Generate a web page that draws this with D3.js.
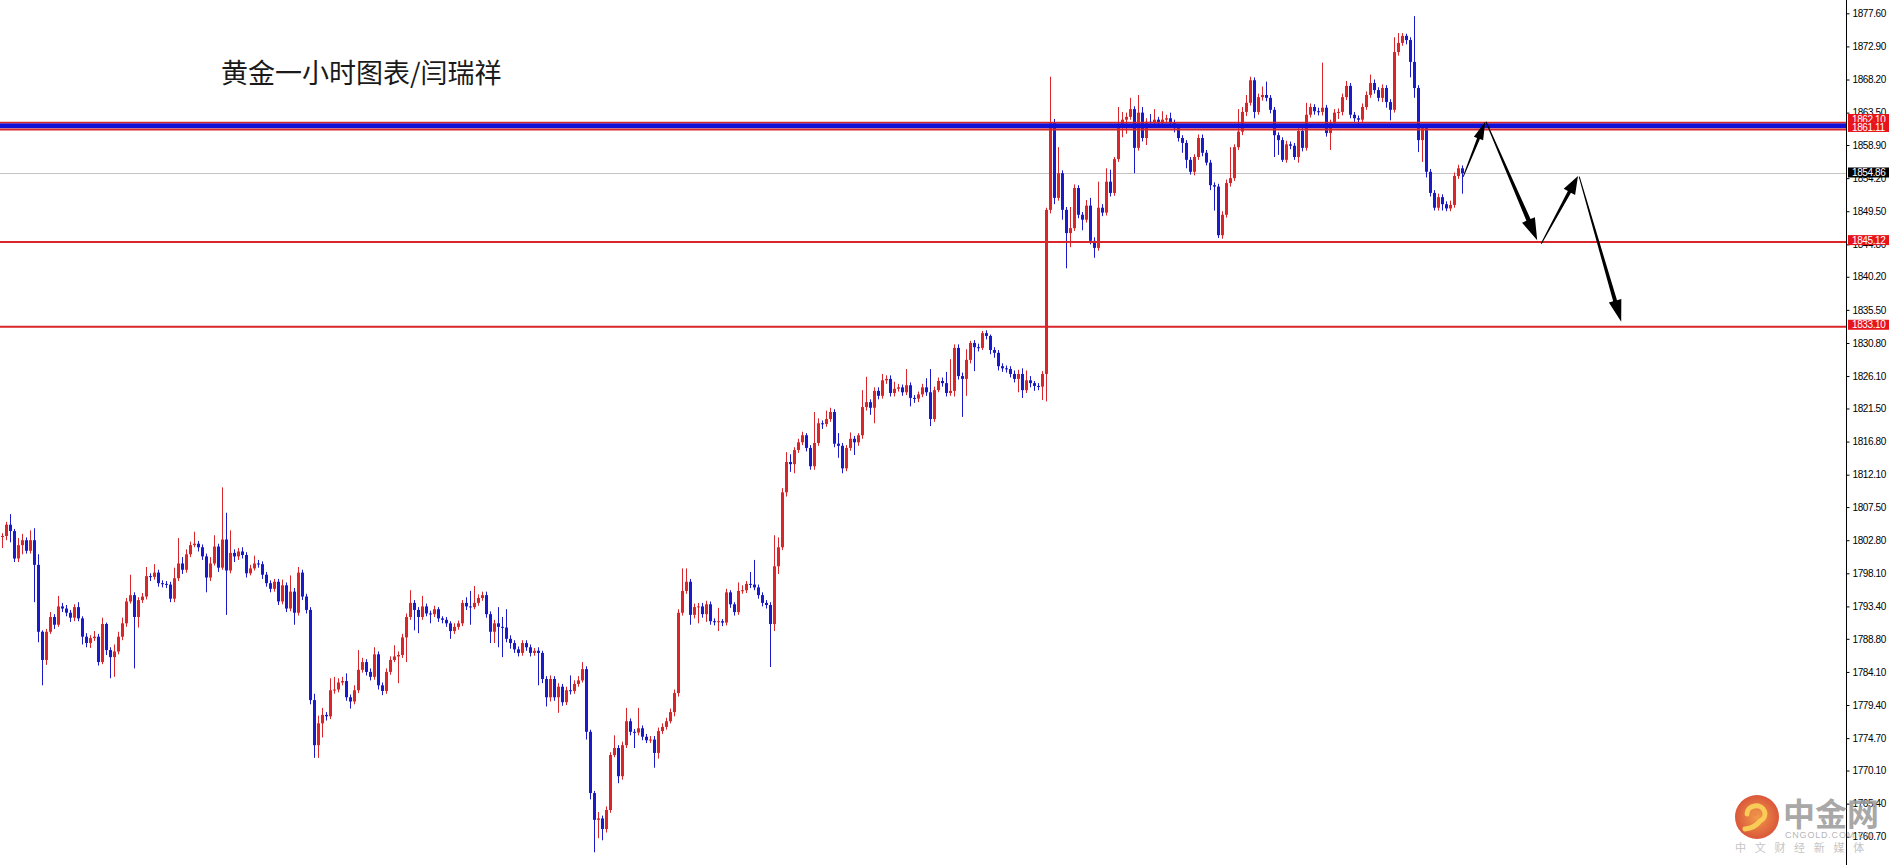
<!DOCTYPE html>
<html><head><meta charset="utf-8">
<script src="https://cdn.jsdelivr.net/npm/d3@7/dist/d3.min.js"></script>
<style>html,body{margin:0;padding:0;background:#fff;overflow:hidden}</style>
</head><body>
<svg id="chart" width="1890" height="865"></svg>
<script>
// ---- DATA (XAUUSD H1) ----
const opens=[
1804.2,1803.3,1803.4,1805.0,1804.1,1800.2,1802.1,1802.8,1801.3,1802.8,
1799.3,1789.8,1785.8,1789.8,1791.9,1790.8,1793.4,1793.1,1792.5,1791.8,
1793.3,1791.7,1789.1,1788.2,1788.9,1789.1,1785.5,1790.9,1787.2,1786.2,
1787.0,1789.1,1791.0,1794.1,1795.0,1791.9,1794.3,1794.8,1797.7,1797.6,
1798.2,1796.7,1796.6,1796.5,1794.5,1797.4,1799.5,1798.6,1800.8,1802.1,
1802.3,1801.8,1800.5,1797.5,1799.5,1801.9,1798.9,1802.9,1798.5,1801.0,
1800.5,1801.2,1800.7,1798.1,1798.8,1799.5,1799.4,1797.9,1796.7,1795.9,
1796.9,1794.1,1796.4,1793.1,1795.5,1792.5,1798.2,1794.8,1792.9,1780.1,
1773.7,1776.8,1778.0,1777.8,1781.5,1781.6,1782.6,1782.8,1780.5,1779.9,
1781.5,1784.4,1785.5,1784.1,1783.4,1786.6,1782.2,1781.4,1784.1,1785.8,
1786.3,1786.5,1789.0,1791.9,1793.9,1792.9,1791.9,1793.4,1792.4,1792.3,
1793.0,1791.7,1791.5,1791.0,1789.9,1790.5,1791.0,1793.9,1793.4,1793.3,
1793.9,1794.6,1795.0,1792.3,1789.8,1791.0,1790.5,1790.4,1788.8,1788.2,
1787.3,1786.8,1788.2,1787.6,1786.8,1787.1,1786.8,1783.1,1780.5,1783.1,
1780.5,1782.0,1779.8,1781.5,1781.4,1782.4,1782.9,1784.5,1775.6,1766.9,
1763.1,1763.3,1761.8,1764.5,1772.3,1773.3,1769.3,1773.7,1777.1,1775.6,
1775.5,1776.1,1774.9,1774.4,1774.5,1772.6,1775.7,1776.3,1777.1,1778.4,
1781.1,1792.5,1795.6,1796.9,1792.2,1793.3,1793.4,1792.3,1793.7,1791.3,
1791.2,1791.3,1791.1,1795.4,1793.7,1792.6,1795.6,1795.7,1796.6,1796.5,
1796.1,1795.0,1793.9,1793.6,1790.9,1799.1,1801.8,1809.6,1813.9,1813.6,
1815.6,1816.7,1817.7,1815.9,1813.3,1816.6,1819.4,1819.3,1820.0,1821.0,
1816.5,1816.2,1813.0,1815.9,1817.2,1816.7,1817.7,1821.7,1822.4,1821.6,
1824.0,1823.3,1825.5,1825.7,1823.7,1824.3,1824.5,1823.8,1824.8,1823.0,
1822.9,1823.5,1824.5,1823.8,1820.0,1824.1,1825.4,1825.1,1823.7,1824.0,
1830.1,1826.1,1825.7,1828.4,1830.8,1830.2,1830.1,1832.2,1831.8,1829.8,
1829.4,1827.5,1827.2,1827.1,1826.4,1825.7,1826.4,1824.1,1825.5,1825.1,
1824.7,1824.6,1826.4,1849.7,1862.0,1851.4,1854.9,1849.7,1846.4,1847.1,
1852.8,1849.0,1848.3,1850.3,1845.3,1844.3,1850.0,1849.3,1853.7,1852.1,
1856.9,1861.5,1862.5,1862.9,1864.0,1858.5,1863.5,1859.9,1862.2,1862.1,
1862.5,1862.0,1862.5,1862.7,1862.0,1861.3,1859.9,1859.2,1856.8,1855.1,
1857.2,1859.9,1857.8,1856.4,1853.2,1853.0,1846.1,1849.0,1853.5,1854.2,
1858.6,1860.8,1863.6,1864.9,1868.1,1863.6,1865.7,1866.0,1865.6,1863.9,
1860.3,1859.6,1856.8,1859.0,1858.8,1857.2,1860.9,1858.5,1863.2,1864.3,
1863.7,1863.6,1864.2,1860.6,1862.0,1863.5,1863.6,1865.7,1867.3,1863.2,
1862.7,1862.5,1864.3,1866.0,1867.7,1866.7,1865.6,1867.0,1865.0,1863.9,
1872.1,1873.4,1874.4,1873.8,1870.7,1867.0,1859.6,1861.3,1855.1,1852.1,
1850.0,1851.5,1850.5,1849.9,1850.4,1854.5,1855.6];
const highs=[
1804.6,1803.8,1805.4,1806.5,1804.4,1803.1,1803.7,1803.2,1804.2,1804.5,
1800.8,1790.0,1790.2,1792.6,1792.3,1794.9,1793.9,1793.6,1792.9,1793.7,
1794.0,1792.0,1789.6,1789.3,1789.9,1789.5,1791.8,1791.1,1787.6,1788.0,
1789.8,1791.8,1794.6,1797.9,1795.4,1794.7,1795.3,1799.0,1798.1,1799.4,
1798.6,1797.1,1797.0,1796.9,1798.9,1803.1,1800.4,1801.5,1802.6,1804.0,
1802.7,1802.2,1800.9,1800.4,1803.5,1802.3,1810.3,1806.7,1804.2,1801.5,
1801.7,1801.8,1801.1,1799.3,1800.6,1800.0,1799.8,1798.3,1797.1,1797.3,
1797.3,1797.2,1796.8,1797.8,1796.0,1799.0,1798.6,1795.2,1793.3,1781.0,
1777.9,1779.0,1778.4,1783.2,1783.4,1783.2,1783.4,1783.9,1780.9,1782.2,
1787.2,1786.1,1785.9,1784.6,1787.6,1787.0,1782.6,1784.6,1786.3,1787.9,
1787.0,1789.5,1792.4,1795.7,1794.3,1793.3,1794.9,1793.8,1792.8,1793.5,
1793.3,1792.0,1791.9,1791.3,1791.0,1791.4,1794.3,1794.7,1795.6,1796.3,
1795.1,1795.5,1795.5,1792.7,1791.5,1793.3,1791.9,1793.0,1789.3,1788.6,
1787.7,1788.6,1788.6,1788.0,1787.5,1787.6,1787.1,1783.5,1783.6,1783.5,
1782.5,1782.4,1782.0,1783.6,1782.9,1783.5,1785.5,1784.9,1775.9,1767.2,
1764.2,1763.7,1765.0,1772.7,1775.1,1773.7,1774.2,1779.0,1777.5,1776.0,
1779.0,1776.5,1775.3,1775.0,1775.0,1776.2,1776.8,1777.6,1778.9,1781.6,
1793.0,1798.8,1798.8,1797.3,1793.8,1793.9,1793.9,1794.2,1794.1,1791.7,
1793.2,1791.6,1795.9,1795.7,1794.0,1796.8,1796.4,1797.0,1798.3,1800.0,
1796.5,1795.4,1794.3,1794.0,1803.5,1803.2,1810.2,1815.3,1815.0,1816.0,
1817.2,1818.2,1818.0,1816.3,1821.0,1820.1,1819.8,1821.2,1821.6,1821.4,
1818.0,1816.6,1816.3,1818.1,1817.6,1818.0,1824.1,1826.0,1822.8,1824.5,
1824.5,1826.4,1826.2,1826.2,1825.3,1825.0,1824.9,1827.1,1825.2,1823.4,
1823.9,1825.0,1825.8,1827.1,1824.6,1825.9,1825.9,1826.7,1828.5,1830.6,
1830.6,1826.6,1829.9,1831.1,1831.2,1830.7,1832.5,1832.6,1832.0,1830.2,
1829.8,1827.9,1827.6,1827.5,1826.9,1827.0,1827.2,1826.9,1826.1,1825.4,
1825.1,1826.8,1850.0,1868.6,1862.6,1858.6,1855.3,1850.1,1850.1,1853.3,
1853.2,1849.4,1851.1,1851.4,1845.8,1853.7,1850.5,1855.6,1855.4,1857.2,
1864.3,1863.6,1863.5,1865.6,1864.4,1866.0,1864.3,1862.7,1863.3,1864.0,
1862.9,1863.7,1863.2,1863.5,1862.5,1861.6,1860.3,1859.6,1857.2,1857.6,
1860.4,1860.4,1858.2,1856.8,1853.6,1853.4,1849.5,1854.0,1858.6,1859.0,
1864.0,1864.3,1866.0,1868.6,1868.5,1866.2,1867.2,1867.9,1866.0,1864.3,
1860.7,1860.0,1859.5,1859.4,1859.2,1861.3,1861.3,1864.9,1864.8,1864.7,
1864.2,1870.6,1864.6,1862.5,1864.0,1864.1,1866.2,1868.0,1867.7,1863.6,
1863.1,1864.8,1866.5,1868.9,1868.2,1867.1,1867.5,1867.4,1865.4,1874.2,
1874.8,1874.8,1874.7,1874.2,1877.2,1867.4,1861.8,1861.7,1855.5,1852.5,
1852.0,1851.9,1850.9,1851.0,1855.0,1856.1,1856.0];
const lows=[
1802.9,1801.7,1802.8,1802.5,1799.7,1799.7,1800.8,1800.9,1800.9,1794.0,
1788.3,1782.2,1785.1,1789.5,1790.2,1790.5,1792.6,1792.0,1791.2,1791.3,
1791.3,1788.0,1787.6,1787.5,1788.5,1785.0,1785.2,1786.5,1783.2,1783.4,
1786.6,1788.6,1790.5,1793.8,1784.6,1790.4,1793.9,1794.4,1797.0,1797.2,
1796.2,1796.1,1796.0,1794.0,1794.0,1797.0,1798.0,1798.2,1800.4,1801.8,
1801.2,1800.0,1795.4,1797.0,1799.2,1798.3,1798.6,1792.2,1798.1,1799.7,
1800.0,1800.2,1797.5,1797.8,1798.5,1798.9,1797.3,1796.2,1795.4,1795.5,
1793.6,1793.7,1792.6,1792.7,1790.8,1792.1,1794.3,1792.4,1779.5,1771.9,
1771.9,1774.8,1777.2,1777.4,1781.0,1781.2,1782.2,1780.0,1778.9,1779.5,
1781.1,1784.0,1783.6,1782.9,1783.0,1781.6,1780.8,1781.0,1783.7,1785.5,
1782.5,1786.1,1785.5,1791.5,1790.0,1789.6,1791.5,1792.0,1791.0,1791.9,
1791.2,1791.0,1790.5,1788.8,1789.5,1790.1,1790.6,1792.9,1790.8,1793.0,
1793.5,1794.2,1791.8,1788.2,1788.2,1787.6,1786.2,1788.3,1787.4,1786.8,
1786.3,1786.4,1787.1,1786.3,1786.4,1782.2,1782.5,1779.2,1779.9,1780.0,
1778.3,1779.3,1779.4,1780.9,1781.0,1782.0,1782.6,1774.5,1766.0,1758.5,
1760.5,1760.2,1761.3,1764.1,1772.0,1768.3,1768.8,1773.3,1775.1,1773.3,
1775.1,1774.4,1774.0,1774.0,1770.5,1771.8,1775.3,1775.9,1776.8,1777.8,
1780.6,1792.1,1795.2,1790.8,1791.7,1791.0,1791.8,1791.2,1790.8,1790.7,
1789.9,1790.6,1790.7,1793.2,1792.1,1792.2,1795.2,1795.3,1796.0,1795.7,
1794.5,1793.4,1793.1,1784.8,1789.9,1798.0,1801.4,1809.0,1812.5,1812.3,
1815.2,1816.3,1815.4,1812.8,1812.8,1816.2,1818.6,1818.9,1819.6,1816.0,
1814.5,1812.3,1812.6,1815.5,1814.9,1816.2,1817.2,1821.2,1820.6,1819.4,
1822.8,1822.9,1825.0,1823.2,1823.2,1823.9,1823.3,1823.4,1821.8,1822.3,
1822.4,1823.1,1823.3,1819.0,1819.6,1823.8,1824.6,1823.2,1823.3,1823.2,
1825.6,1820.3,1823.3,1827.9,1826.8,1829.6,1829.8,1831.3,1829.2,1828.7,
1826.9,1826.7,1826.6,1825.9,1825.2,1823.8,1823.0,1823.7,1824.5,1824.0,
1824.1,1822.7,1822.5,1849.2,1850.5,1851.0,1848.3,1841.4,1844.4,1846.7,
1848.5,1846.8,1847.9,1844.8,1842.9,1843.9,1848.8,1848.9,1851.6,1851.7,
1856.5,1860.0,1860.5,1862.5,1854.9,1858.1,1859.4,1858.9,1861.6,1861.7,
1861.5,1861.6,1862.0,1861.5,1860.7,1859.4,1857.8,1855.6,1854.7,1854.6,
1856.8,1857.3,1856.0,1852.5,1849.6,1845.7,1845.6,1848.6,1853.0,1853.8,
1858.2,1860.3,1863.0,1864.5,1862.7,1863.2,1865.2,1865.1,1863.4,1857.2,
1857.5,1856.5,1856.4,1858.3,1856.8,1856.4,1858.0,1858.1,1862.8,1863.2,
1863.1,1863.1,1860.1,1858.2,1861.5,1862.6,1863.1,1865.3,1862.7,1862.2,
1861.6,1862.0,1863.9,1865.6,1866.2,1865.1,1865.0,1864.2,1862.4,1863.5,
1871.6,1873.0,1873.2,1868.5,1865.6,1857.9,1856.5,1854.3,1851.6,1849.6,
1849.6,1849.6,1849.5,1849.5,1850.0,1854.1,1852.0];
const closes=[
1803.3,1803.4,1805.0,1804.1,1800.2,1802.1,1802.8,1801.3,1802.8,1799.3,
1789.8,1785.8,1789.8,1791.9,1790.8,1793.4,1793.1,1792.5,1791.8,1793.3,
1791.7,1789.1,1788.2,1788.9,1789.1,1785.5,1790.9,1787.2,1786.2,1787.0,
1789.1,1791.0,1794.1,1795.0,1791.9,1794.3,1794.8,1797.7,1797.6,1798.2,
1796.7,1796.6,1796.5,1794.5,1797.4,1799.5,1798.6,1800.8,1802.1,1802.3,
1801.8,1800.5,1797.5,1799.5,1801.9,1798.9,1802.9,1798.5,1801.0,1800.5,
1801.2,1800.7,1798.1,1798.8,1799.5,1799.4,1797.9,1796.7,1795.9,1796.9,
1794.1,1796.4,1793.1,1795.5,1792.5,1798.2,1794.8,1792.9,1780.1,1773.7,
1776.8,1778.0,1777.8,1781.5,1781.6,1782.6,1782.8,1780.5,1779.9,1781.5,
1784.4,1785.5,1784.1,1783.4,1786.6,1782.2,1781.4,1784.1,1785.8,1786.3,
1786.5,1789.0,1791.9,1793.9,1792.9,1791.9,1793.4,1792.4,1792.3,1793.0,
1791.7,1791.5,1791.0,1789.9,1790.5,1791.0,1793.9,1793.4,1793.3,1793.9,
1794.6,1795.0,1792.3,1789.8,1791.0,1790.5,1790.4,1788.8,1788.2,1787.3,
1786.8,1788.2,1787.6,1786.8,1787.1,1786.8,1783.1,1780.5,1783.1,1780.5,
1782.0,1779.8,1781.5,1781.4,1782.4,1782.9,1784.5,1775.6,1766.9,1763.1,
1763.3,1761.8,1764.5,1772.3,1773.3,1769.3,1773.7,1777.1,1775.6,1775.5,
1776.1,1774.9,1774.4,1774.5,1772.6,1775.7,1776.3,1777.1,1778.4,1781.1,
1792.5,1795.6,1796.9,1792.2,1793.3,1793.4,1792.3,1793.7,1791.3,1791.2,
1791.3,1791.1,1795.4,1793.7,1792.6,1795.6,1795.7,1796.6,1796.5,1796.1,
1795.0,1793.9,1793.6,1790.9,1799.1,1801.8,1809.6,1813.9,1813.6,1815.6,
1816.7,1817.7,1815.9,1813.3,1816.6,1819.4,1819.3,1820.0,1821.0,1816.5,
1816.2,1813.0,1815.9,1817.2,1816.7,1817.7,1821.7,1822.4,1821.6,1824.0,
1823.3,1825.5,1825.7,1823.7,1824.3,1824.5,1823.8,1824.8,1823.0,1822.9,
1823.5,1824.5,1823.8,1820.0,1824.1,1825.4,1825.1,1823.7,1824.0,1830.1,
1826.1,1825.7,1828.4,1830.8,1830.2,1830.1,1832.2,1831.8,1829.8,1829.4,
1827.5,1827.2,1827.1,1826.4,1825.7,1826.4,1824.1,1825.5,1825.1,1824.7,
1824.6,1826.4,1849.7,1862.0,1851.4,1854.9,1849.7,1846.4,1847.1,1852.8,
1849.0,1848.3,1850.3,1845.3,1844.3,1850.0,1849.3,1853.7,1852.1,1856.9,
1861.5,1862.5,1862.9,1864.0,1858.5,1863.5,1859.9,1862.2,1862.1,1862.5,
1862.0,1862.5,1862.7,1862.0,1861.3,1859.9,1859.2,1856.8,1855.1,1857.2,
1859.9,1857.8,1856.4,1853.2,1853.0,1846.1,1849.0,1853.5,1854.2,1858.6,
1860.8,1863.6,1864.9,1868.1,1863.6,1865.7,1866.0,1865.6,1863.9,1860.3,
1859.6,1856.8,1859.0,1858.8,1857.2,1860.9,1858.5,1863.2,1864.3,1863.7,
1863.6,1864.2,1860.6,1862.0,1863.5,1863.6,1865.7,1867.3,1863.2,1862.7,
1862.5,1864.3,1866.0,1867.7,1866.7,1865.6,1867.0,1865.0,1863.9,1872.1,
1873.4,1874.4,1873.8,1870.7,1867.0,1859.6,1861.3,1855.1,1852.1,1850.0,
1851.5,1850.5,1849.9,1850.4,1854.5,1855.6,1854.9];
const tickValues=[1877.60,1872.90,1868.20,1863.50,1858.90,1854.20,1849.50,1844.80,1840.20,1835.50,
 1830.80,1826.10,1821.50,1816.80,1812.10,1807.50,1802.80,1798.10,1793.40,1788.80,
 1784.10,1779.40,1774.70,1770.10,1765.40,1760.70];
const resistanceTop=1862.10, resistanceBottom=1861.11, resistanceBand=1861.65;
const supportLevels=[1845.12,1833.10];
const currentPrice=1854.86;
const titleText="黄金一小时图表/闫瑞祥";
// projected path (bar index, price)
const arrowLegs=[
 [[366.3,1854.4],[371.8,1862.2]],
 [[372.0,1862.2],[384.8,1845.4]],
 [[385.8,1844.9],[395.0,1854.5]],
 [[395.3,1854.4],[405.8,1833.8]]
];

// ---- DRAW ----
const W=1890,H=865, axisX=1846;
const RED="#d8262a", BLUE="#1a1ac8";
const svg=d3.select("#chart");
const x=d3.scaleLinear().domain([0,366]).range([-2,1462]);
const y=d3.scaleLinear().domain([1879.49,1756.69]).range([0,H]);

svg.append("rect").attr("width",W).attr("height",H).attr("fill","#fff");

// current price line
svg.append("line").attr("x1",0).attr("x2",axisX).attr("y1",Math.round(y(currentPrice))+0.5).attr("y2",Math.round(y(currentPrice))+0.5)
  .attr("stroke","#c4c4c4").attr("stroke-width",1);

// candles
const data=closes.map((c,i)=>({i,o:opens[i],h:highs[i],l:lows[i],c}));
const g=svg.append("g");
g.selectAll("line.wick").data(data).join("line").attr("class","wick")
  .attr("x1",d=>Math.round(x(d.i))+0.5).attr("x2",d=>Math.round(x(d.i))+0.5)
  .attr("y1",d=>y(d.h)).attr("y2",d=>y(d.l))
  .attr("stroke",d=>d.c>=d.o?RED:BLUE).attr("stroke-width",1);
g.selectAll("rect.body").data(data).join("rect").attr("class","body")
  .attr("x",d=>Math.round(x(d.i))-1).attr("width",3)
  .attr("y",d=>Math.min(y(d.o),y(d.c)))
  .attr("height",d=>Math.max(1,Math.abs(y(d.o)-y(d.c))))
  .attr("fill",d=>d.c>=d.o?RED:BLUE);

// horizontal levels
function hline(v,color,w){
  svg.append("line").attr("x1",0).attr("x2",axisX).attr("y1",y(v)).attr("y2",y(v))
    .attr("stroke",color).attr("stroke-width",w);
}
hline(resistanceBand,"#1010d8",5);
hline(resistanceTop,"#d8262a",1.4);
hline(resistanceBottom,"#d8262a",2);
supportLevels.forEach(v=>hline(v,"#d8262a",2));

// arrows
function arrowPoly(p0,p1,w0,w1,L,Wd){
  const dx=p1[0]-p0[0], dy=p1[1]-p0[1], len=Math.hypot(dx,dy);
  const ux=dx/len, uy=dy/len, nx=-uy, ny=ux;
  const bx=p1[0]-ux*L, by=p1[1]-uy*L;
  const pts=[[p0[0]+nx*w0/2,p0[1]+ny*w0/2],[bx+nx*w1/2,by+ny*w1/2],[bx+nx*Wd/2,by+ny*Wd/2],
    p1,[bx-nx*Wd/2,by-ny*Wd/2],[bx-nx*w1/2,by-ny*w1/2],[p0[0]-nx*w0/2,p0[1]-ny*w0/2]];
  return pts.map(p=>p.join(",")).join(" ");
}
const arrowDims=[[0.8,3,18,10],[1,4.5,22,14],[1,3.5,18,13],[1,4,22,13]];
arrowLegs.forEach((leg,k)=>{
  const p0=[x(leg[0][0]),y(leg[0][1])], p1=[x(leg[1][0]),y(leg[1][1])];
  const d=arrowDims[k];
  svg.append("polygon").attr("points",arrowPoly(p0,p1,d[0],d[1],d[2],d[3])).attr("fill","#000");
});

// right axis
svg.append("rect").attr("x",axisX).attr("y",0).attr("width",W-axisX).attr("height",H).attr("fill","#fff");
const axis=d3.axisRight(y).tickValues(tickValues).tickSize(3).tickPadding(3).tickFormat(d3.format(".2f"));
const ag=svg.append("g").attr("transform",`translate(${axisX+0.5},0)`).call(axis);
ag.select(".domain").remove();
ag.selectAll("line").attr("stroke","#000");
ag.selectAll("text").attr("font-family","Liberation Sans, Arial, sans-serif").attr("font-size","10px")
  .attr("letter-spacing","-0.4px").attr("fill","#000");
svg.append("line").attr("x1",axisX+0.5).attr("x2",axisX+0.5).attr("y1",0).attr("y2",H).attr("stroke","#000").attr("stroke-width",1);

// price tags
function tag(v,bg,dy){
  const cy=y(v)+dy;
  svg.append("rect").attr("x",axisX+2).attr("y",cy-5).attr("width",W-axisX-3).attr("height",10).attr("fill",bg);
  svg.append("text").attr("x",axisX+6).attr("y",cy+3.6).text(v.toFixed(2))
    .attr("font-family","Liberation Sans, Arial, sans-serif").attr("font-size","10px").attr("letter-spacing","-0.4px").attr("fill","#fff");
}
tag(currentPrice,"#000",-1);
supportLevels.forEach(v=>tag(v,"#e8141c",-2));
tag(resistanceTop,"#e8141c",-3.5);
tag(resistanceBottom,"#e8141c",-2.5);

// title
svg.append("text").attr("x",221).attr("y",83).text(titleText)
  .attr("font-family","Noto Sans CJK SC, sans-serif").attr("font-size","27px").attr("fill","#1a1a1a");

// watermark
const wm=svg.append("g").attr("opacity",0.85);
const defs=svg.append("defs");
const rg=defs.append("radialGradient").attr("id","lg");
rg.append("stop").attr("offset","0%").attr("stop-color","#f08a2c");
rg.append("stop").attr("offset","100%").attr("stop-color","#d43a18");
wm.append("circle").attr("cx",1757).attr("cy",817).attr("r",22).attr("fill","url(#lg)");
wm.append("path").attr("d","M1747,814 a9,8 0 1,1 13,7 q-5,7 -15,8").attr("fill","none").attr("stroke","#f8c23a").attr("stroke-width",5).attr("stroke-linecap","round");
wm.append("circle").attr("cx",1755).attr("cy",813).attr("r",3).attr("fill","#e8752a");
wm.append("text").attr("x",1783).attr("y",826).text("中金网").attr("font-family","Noto Sans CJK SC, sans-serif")
  .attr("font-size","32px").attr("font-weight","bold").attr("fill","#999");
wm.append("text").attr("x",1785).attr("y",838).text("CNGOLD.COM.CN").attr("font-family","Liberation Sans, Arial, sans-serif")
  .attr("font-size","9px").attr("letter-spacing","0.8px").attr("fill","#aaa");
wm.append("text").attr("x",1735).attr("y",852).text("中文财经新媒体").attr("font-family","Noto Sans CJK SC, sans-serif")
  .attr("font-size","11px").attr("letter-spacing","8.7px").attr("fill","#bbb");
</script>
</body></html>
